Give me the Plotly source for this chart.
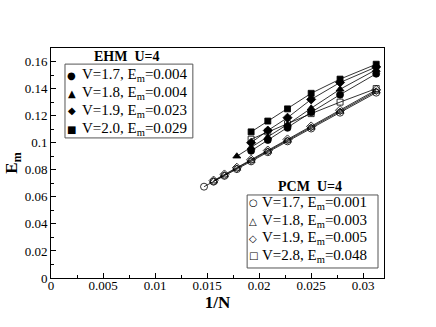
import plotly.graph_objects as go

# system sizes N, x axis is 1/N
N_pcm_circ = [68, 64, 60, 56, 52, 48, 44, 40, 36, 32]
N_pcm_other = [64, 60, 56, 52, 48, 44, 40, 36, 32]
N_pcm_sq = [52, 48, 44, 40, 36, 32]
N_ehm = [52, 48, 44, 40, 36, 32]
N_ehm_tri = [56, 52, 48, 44, 40, 36, 32]

# EHM U=4 (filled symbols)
ehm_v17 = [0.0940, 0.1020, 0.1110, 0.1225, 0.1355, 0.1510]
ehm_v18 = [0.0900, 0.0965, 0.1040, 0.1135, 0.1255, 0.1395, 0.1540]
ehm_v19 = [0.1000, 0.1090, 0.1185, 0.1320, 0.1445, 0.1560]
ehm_v20 = [0.1080, 0.1160, 0.1250, 0.1365, 0.1470, 0.1580]

# PCM U=4 (open symbols)
pcm_v17 = [0.0675, 0.0712, 0.0755, 0.0805, 0.0862, 0.0930, 0.1010, 0.1105, 0.1222, 0.1370]
pcm_v18 = [0.0716, 0.0760, 0.0810, 0.0868, 0.0936, 0.1017, 0.1113, 0.1231, 0.1380]
pcm_v19 = [0.0720, 0.0765, 0.0815, 0.0874, 0.0942, 0.1024, 0.1120, 0.1240, 0.1390]
pcm_v28 = [0.1026, 0.1080, 0.1140, 0.1215, 0.1300, 0.1400]

ehm_labels = ["V=1.7, E<sub>m</sub>=0.004", "V=1.8, E<sub>m</sub>=0.004",
              "V=1.9, E<sub>m</sub>=0.023", "V=2.0, E<sub>m</sub>=0.029"]
pcm_labels = ["V=1.7, E<sub>m</sub>=0.001", "V=1.8, E<sub>m</sub>=0.003",
              "V=1.9, E<sub>m</sub>=0.005", "V=2.8, E<sub>m</sub>=0.048"]
ehm_glyphs = ["\u25CF", "\u25B2", "\u25C6", "\u25A0"]
pcm_glyphs = ["\u25CB", "\u25B3", "\u25C7", "\u25A1"]

FONT = "Liberation Serif"

ehm = [(N_ehm, ehm_v17, "circle", 7), (N_ehm_tri, ehm_v18, "triangle-up", 7),
       (N_ehm, ehm_v19, "diamond", 7), (N_ehm, ehm_v20, "square", 6)]
pcm = [(N_pcm_circ, pcm_v17, "circle-open", 7), (N_pcm_other, pcm_v18, "triangle-up-open", 7),
       (N_pcm_other, pcm_v19, "diamond-open", 7), (N_pcm_sq, pcm_v28, "square-open", 6)]

fig = go.Figure()

for group, labels in [(ehm, ehm_labels), (pcm, pcm_labels)]:
    for (ns, ys, sym, sz), lab in zip(group, labels):
        xs = [1.0 / n for n in ns]
        fig.add_trace(go.Scatter(x=xs, y=ys, mode="lines+markers", name=lab, showlegend=False,
                                 line=dict(color="black", width=0.8),
                                 marker=dict(symbol=sym, size=sz, color="black",
                                             line=dict(color="black", width=0.8))))

axis_common = dict(showline=True, linecolor="black", linewidth=1, mirror=True,
                   ticks="inside", ticklen=5, tickcolor="black", showgrid=False,
                   zeroline=False, automargin=False,
                   tickfont=dict(family=FONT, size=13, color="black"))

fig.update_xaxes(range=[0, 0.032], dtick=0.005, tick0=0, ticklabelstandoff=-5,
                 minor=dict(ticks="inside", ticklen=3, dtick=0.0025, tickcolor="black"),
                 title=dict(text="<b>1/N</b>", font=dict(family=FONT, size=17, color="black"),
                            standoff=0),
                 **axis_common)
fig.update_yaxes(range=[0, 0.17], dtick=0.02, tick0=0, ticklabelstandoff=0,
                 minor=dict(ticks="inside", ticklen=3, dtick=0.01, tickcolor="black"),
                 title=dict(text="<b>E<sub>m</sub></b>", font=dict(family=FONT, size=17, color="black"),
                            standoff=2),
                 **axis_common)

# legend boxes drawn by hand (title sits above the box in the original)
annotations = []
shapes = []
legends = [
    ("<b>EHM  U=4</b>", (0.228, 0.965), (0.042, 0.426, 0.609, 0.930),
     ehm_labels, ehm_glyphs, [0.8826, 0.8043, 0.7261, 0.6478], 0.063, 0.087),
    ("<b>PCM  U=4</b>", (0.778, 0.396), (0.589, 0.982, 0.0435, 0.361),
     pcm_labels, pcm_glyphs, [0.3261, 0.2478, 0.1739, 0.0957], 0.607, 0.628),
]
for title, (tx, ty), (x0, x1, y0, y1), labels, glyphs, rows, gx, lx in legends:
    shapes.append(dict(type="rect", xref="paper", yref="paper", x0=x0, x1=x1, y0=y0, y1=y1,
                       line=dict(color="#555", width=1), fillcolor="white", layer="above"))
    annotations.append(dict(text=title, x=tx, y=ty, xref="paper", yref="paper",
                            xanchor="center", yanchor="middle", showarrow=False,
                            font=dict(family=FONT, size=14, color="black")))
    for lab, g, ry in zip(labels, glyphs, rows):
        annotations.append(dict(text=g, x=gx, y=ry, xref="paper", yref="paper",
                                xanchor="center", yanchor="middle", showarrow=False,
                                font=dict(family="DejaVu Sans", size=10, color="black")))
        annotations.append(dict(text=lab, x=lx, y=ry, xref="paper", yref="paper",
                                xanchor="left", yanchor="middle", showarrow=False,
                                font=dict(family=FONT, size=15, color="black")))

fig.update_layout(
    width=436, height=327,
    margin=dict(l=51, r=52, t=48, b=49, autoexpand=False),
    paper_bgcolor="white", plot_bgcolor="white",
    showlegend=False,
    shapes=shapes,
    annotations=annotations,
)

# the page body has a default 8px margin; drop it so the figure fills the window
fig.write_html("out.html", config={"displayModeBar": False},
               post_script="document.body.style.margin='0';document.body.style.overflow='hidden';")
